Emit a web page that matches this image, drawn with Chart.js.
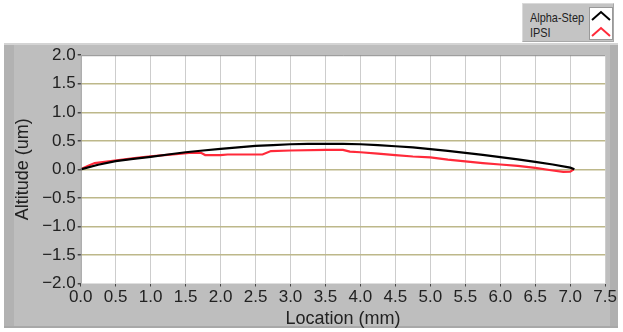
<!DOCTYPE html>
<html><head><meta charset="utf-8">
<script src="https://cdn.jsdelivr.net/npm/chart.js@4/dist/chart.umd.min.js"></script>
<style>
html,body{margin:0;padding:0;background:#fff;width:623px;height:332px;overflow:hidden;font-family:"Liberation Sans",Arial,sans-serif;}
#panel{position:absolute;left:4px;top:43px;width:614px;height:285px;background:#bebebe;border-top:2px solid #d4d4d4;box-sizing:border-box;border-bottom:2px solid #a8a8a8;}
#lstrip{position:absolute;left:4px;top:45px;width:10px;height:281px;background:#b2b2b2;}
#rstrip{position:absolute;left:610px;top:45px;width:8px;height:281px;background:#b0b0b0;}
#wrap{position:absolute;left:4px;top:43px;width:614px;height:285px;}
#legend{position:absolute;left:522px;top:3px;width:92px;height:39px;background:#c4c4c4;border-left:1px solid #dadada;border-top:1px solid #dadada;border-right:1px solid #a8a8a8;border-bottom:1px solid #a8a8a8;box-sizing:border-box;}
#legend .t{position:absolute;left:7px;font-size:13px;color:#222;transform:scaleX(0.84);transform-origin:0 50%;white-space:nowrap;}
#sw{position:absolute;left:66px;top:3px;width:24px;height:33px;background:#fff;border:1px solid #999;box-sizing:border-box;}
</style></head>
<body>
<div id="panel"></div><div id="lstrip"></div><div id="rstrip"></div>
<div id="wrap"><canvas id="c" width="614" height="285"></canvas></div>
<div id="legend">
  <div class="t" style="top:6px">Alpha-Step</div>
  <div class="t" style="top:21px">IPSI</div>
  <div id="sw"><svg width="22" height="31" viewBox="0 0 22 31">
    <polyline points="2,12 11,4 20,12" fill="none" stroke="#000" stroke-width="2"/>
    <polyline points="2,28 11,20 20,28" fill="none" stroke="#ff2a3a" stroke-width="2"/>
  </svg></div>
</div>
<script>
const xTicks = [0,0.5,1,1.5,2,2.5,3,3.5,4,4.5,5,5.5,6,6.5,7,7.5];
const yTicks = [-2,-1.5,-1,-0.5,0,0.5,1,1.5,2];
const alphaX = [0,0.25,0.5,0.75,1.0,1.25,1.5,1.75,2.0,2.25,2.5,2.75,3.0,3.25,3.5,3.75,4.0,4.25,4.5,4.75,5.0,5.25,5.5,5.75,6.0,6.25,6.5,6.75,7.0,7.06];
const alphaY = [0,0.08,0.145,0.185,0.22,0.26,0.30,0.33,0.36,0.385,0.41,0.425,0.44,0.445,0.445,0.445,0.44,0.425,0.405,0.385,0.355,0.325,0.29,0.255,0.215,0.175,0.13,0.085,0.03,0.0];
const ipsiX = [0,0.1,0.2,0.4,0.6,0.8,1.0,1.2,1.4,1.55,1.72,1.78,2.0,2.1,2.6,2.72,3.0,3.5,3.75,3.85,4.0,4.25,4.5,4.75,5.0,5.25,5.5,5.75,6.0,6.25,6.5,6.75,6.9,7.0,7.05];
const ipsiY = [0,0.06,0.11,0.14,0.17,0.2,0.23,0.25,0.27,0.29,0.29,0.25,0.25,0.26,0.26,0.32,0.33,0.34,0.34,0.31,0.30,0.275,0.25,0.225,0.21,0.17,0.14,0.11,0.085,0.06,0.025,-0.02,-0.045,-0.04,0.0];

const toPts = (xs, ys) => xs.map((x, i) => ({x: x, y: ys[i]}));
const tickFont = {family: '"Liberation Sans", Arial, sans-serif', size: 17};
const titleFont = {family: '"Liberation Sans", Arial, sans-serif', size: 18};

const bg = {
  id: 'bg',
  beforeDraw(chart) {
    const {ctx, chartArea: a} = chart;
    ctx.save();
    ctx.fillStyle = '#ffffff';
    ctx.fillRect(a.left, a.top, a.right - a.left, a.bottom - a.top);
    ctx.restore();
  },
  afterDraw(chart) {
    const {ctx, chartArea: a} = chart;
    ctx.save();
    ctx.strokeStyle = '#8a8a8a';
    ctx.lineWidth = 1;
    ctx.beginPath();
    ctx.moveTo(a.left + 0.5, a.bottom);
    ctx.lineTo(a.left + 0.5, a.top + 0.5);
    ctx.lineTo(a.right, a.top + 0.5);
    ctx.stroke();
    ctx.restore();
  }
};

new Chart(document.getElementById('c'), {
  type: 'scatter',
  data: {
    datasets: [
      {label: 'Alpha-Step', data: toPts(alphaX, alphaY), showLine: true, borderColor: '#000000', borderWidth: 2.2, pointRadius: 0, tension: 0},
      {label: 'IPSI', data: toPts(ipsiX, ipsiY), showLine: true, borderColor: '#ff2a3a', borderWidth: 2.2, pointRadius: 0, tension: 0}
    ]
  },
  options: {
    responsive: false,
    animation: false,
    layout: {padding: {top: 11, right: 12, left: 0, bottom: 0}},
    plugins: {legend: {display: false}, tooltip: {enabled: false}},
    scales: {
      x: {
        type: 'linear', min: 0, max: 7.5,
        afterBuildTicks(s) { s.ticks = xTicks.map(v => ({value: v})); },
        afterFit(s) { s.height = 44.5; },
        ticks: {font: tickFont, color: '#222', padding: 1, maxRotation: 0, autoSkip: false,
          callback: v => Number(v).toFixed(1)},
        grid: {color: '#cdcdcd', lineWidth: 1, tickLength: 3, tickColor: '#444'},
        border: {display: false},
        title: {display: true, text: 'Location (mm)', font: titleFont, color: '#222', padding: {top: 0, bottom: -2}}
      },
      y: {
        type: 'linear', min: -2, max: 2,
        afterBuildTicks(s) { s.ticks = yTicks.map(v => ({value: v})); },
        afterFit(s) { s.width = 76.7; },
        ticks: {font: tickFont, color: '#222', padding: 2, autoSkip: false,
          callback: v => Number(v).toFixed(1).replace('-', '\u2212')},
        grid: {color: ctx => (Math.abs(ctx.tick.value) > 1.9 ? 'rgba(0,0,0,0)' : '#bdb88a'), lineWidth: 1.5, tickLength: 3, tickColor: '#444'},
        border: {display: false},
        title: {display: true, text: 'Altitude (um)', font: titleFont, color: '#222', padding: {top: 8, bottom: 0}}
      }
    }
  },
  plugins: [bg]
});
</script>
</body></html>
